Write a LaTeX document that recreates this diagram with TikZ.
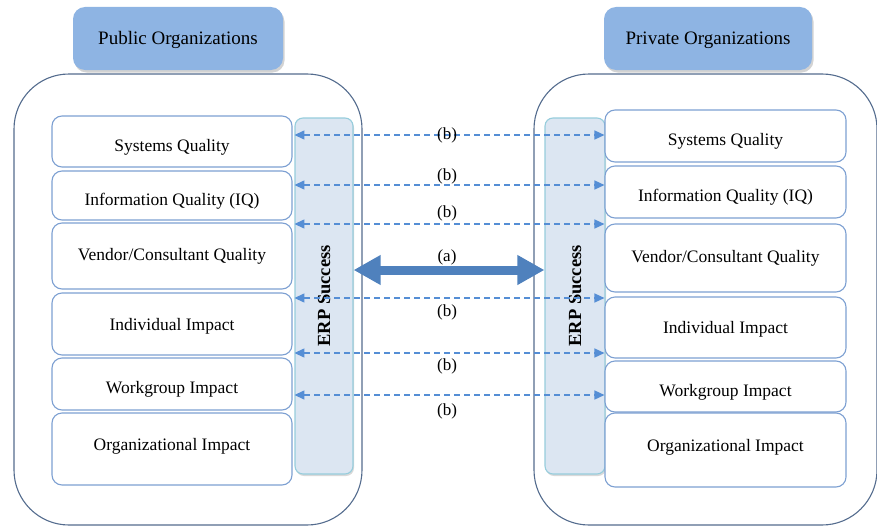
\documentclass[tikz,border=0pt]{standalone}
\usepackage{fontspec}
\setmainfont{Liberation Serif}
\usetikzlibrary{arrows.meta,shadows}
\definecolor{headblue}{RGB}{142,180,227}
\definecolor{framegray}{RGB}{84,108,142}
\definecolor{boxline}{RGB}{125,160,210}
\definecolor{barfill}{RGB}{220,230,242}
\definecolor{barline}{RGB}{150,205,220}
\definecolor{linkblue}{RGB}{85,142,213}
\definecolor{bigblue}{RGB}{79,129,189}
\tikzset{
  header/.style={fill=headblue, rounded corners=12pt, inner sep=0pt, text height=17pt,
    drop shadow={opacity=0.35, shadow xshift=1.5pt, shadow yshift=-2.5pt},
    font=\fontsize{19}{21}\selectfont},
  frame/.style={draw=framegray, line width=1.1pt, rounded corners=55pt},
  item/.style={draw=boxline, line width=1.1pt, fill=white, rounded corners=10pt,
    inner sep=0pt, font=\fontsize{17.5}{20}\selectfont},
  lowtext/.style={text height=23pt},
  midtext/.style={text height=16pt},
  hightext/.style={text depth=10pt},
  erpbar/.style={draw=barline, line width=1.1pt, fill=barfill, rounded corners=8pt,
    drop shadow={opacity=0.3, shadow xshift=1pt, shadow yshift=-2pt}},
  link/.style={draw=linkblue, line width=1.4pt, dash pattern=on 6pt off 4pt,
    {Triangle[length=10pt,width=9pt]}-{Triangle[length=10pt,width=9pt]}},
  bigarrow/.style={draw=bigblue, line width=9pt,
    {Triangle[length=27pt,width=28pt]}-{Triangle[length=27pt,width=28pt]}},
  lbl/.style={inner sep=0pt, font=\fontsize{17}{19}\selectfont}
}

\begin{document}
\begin{tikzpicture}[x=1pt, y=-1pt]
\useasboundingbox (0,0) rectangle (877,527);

% public side
\node[frame, minimum width=348pt, minimum height=451pt] (frameL) at (188,299.5) {};
\node[header, minimum width=210pt, minimum height=63pt] (headL) at (178,38.5) {Public Organizations};
\node[item, lowtext, minimum width=240pt, minimum height=51pt] (sqL) at (172,141.5) {Systems Quality};
\node[item, lowtext, minimum width=240pt, minimum height=49pt] (iqL) at (172,195.5) {Information Quality (IQ)};
\node[item, minimum width=240pt, minimum height=66pt] (vqL) at (172,256) {Vendor/Consultant Quality};
\node[item, midtext, minimum width=240pt, minimum height=62pt] (iiL) at (172,324) {Individual Impact};
\node[item, lowtext, minimum width=240pt, minimum height=52pt] (wiL) at (172,384) {Workgroup Impact};
\node[item, hightext, minimum width=240pt, minimum height=72pt] (oiL) at (172,449) {Organizational Impact};
\node[erpbar, minimum width=58pt, minimum height=356pt] (barL) at (324,296) {};
\node[rotate=90, font=\fontsize{18.5}{20}\selectfont\bfseries] (erpL) at (barL.center) {ERP Success};

% private side
\node[frame, minimum width=343pt, minimum height=451pt] (frameR) at (705.5,299.5) {};
\node[header, minimum width=208pt, minimum height=63pt] (headR) at (708,38.5) {Private Organizations};
\node[erpbar, minimum width=60pt, minimum height=356pt] (barR) at (575,296) {};
\node[rotate=90, font=\fontsize{18.5}{20}\selectfont\bfseries] (erpR) at (barR.center) {ERP Success};
\node[item, lowtext, minimum width=241pt, minimum height=52pt] (sqR) at (725.5,136) {Systems Quality};
\node[item, lowtext, minimum width=241pt, minimum height=52pt] (iqR) at (725.5,192) {Information Quality (IQ)};
\node[item, minimum width=241pt, minimum height=68pt] (vqR) at (725.5,258) {Vendor/Consultant Quality};
\node[item, midtext, minimum width=241pt, minimum height=61pt] (iiR) at (725.5,327.5) {Individual Impact};
\node[item, lowtext, minimum width=241pt, minimum height=51pt] (wiR) at (725.5,386.5) {Workgroup Impact};
\node[item, hightext, minimum width=241pt, minimum height=74pt] (oiR) at (725.5,450) {Organizational Impact};

% links
\foreach \i/\y/\ly in {1/135/135,2/185/176,3/224/213,4/298/312,5/353/366,6/395/411}
{
  \coordinate (l\i) at (barL.west |- 0,\y);
  \coordinate (r\i) at (sqR.west |- 0,\y);
  \draw[link] (l\i) -- (r\i);
  \node[lbl] (b\i) at (447,\ly) {(b)};
}
\coordinate (aL) at (barL.east |- 0,270);
\coordinate (aR) at (barR.west |- 0,270);
\draw[bigarrow] (aL) -- (aR);
\node[lbl] (a) at (447,257) {(a)};
\end{tikzpicture}
\end{document}
